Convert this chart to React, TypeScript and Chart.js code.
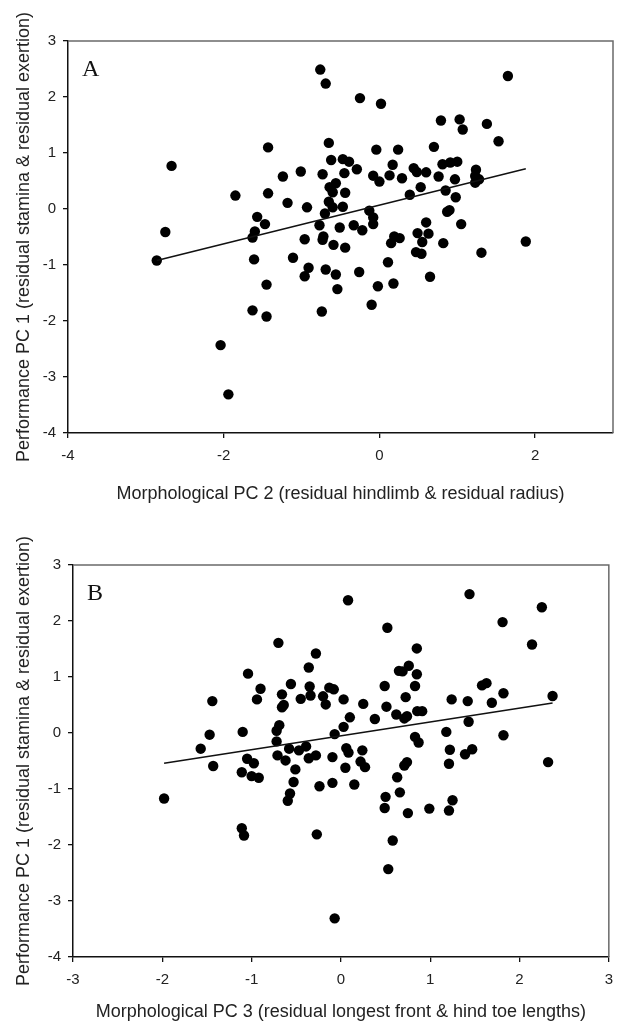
import React, { useEffect, useRef } from "react";
import { Chart, registerables } from "chart.js";

Chart.register(...registerables);

// ---------- data ----------
const yTickValues = [-4, -3, -2, -1, 0, 1, 2, 3];
const xTickValuesA = [-4, -2, 0, 2];
const xTickValuesB = [-3, -2, -1, 0, 1, 2, 3];

const yTitle = "Performance PC 1 (residual stamina & residual exertion)";
const xTitleA = "Morphological PC 2 (residual hindlimb & residual radius)";
const xTitleB = "Morphological PC 3 (residual longest front & hind toe lengths)";

const panelAX = [
  -0.76, -0.69, -0.25, 0.02, -1.43, -0.65, -0.04, -0.62, -0.47, -0.39, -0.29, -1.01, -1.24, -0.73, -0.45, -0.08, 0.0,
  -0.56, -0.64, -0.6, -0.44, -1.85, -1.43, -1.18, -0.93, -0.65, -0.6, -0.47, -0.7, -1.57, -1.47, -1.6, -1.63, -0.77,
  -0.51, -0.33, -0.22, -0.13, -0.08, -0.08, -0.96, -0.72, -0.73, -0.59, -0.44, -1.61, -1.11, -0.91, -0.96, -0.69,
  -0.56, -0.26, -1.45, -0.54, -0.02, -0.1, -1.63, -1.45, -0.74, -2.04,
  1.65, 0.79, 1.03, 1.07, 1.38, 1.53, 0.7, 0.24, 0.17, 0.13, 0.29, 0.44, 0.48, 0.6, 0.81, 0.91, 1.0, 0.76, 0.97, 1.24,
  1.23, 1.28, 1.23, 0.53, 0.39, 0.85, 0.98, 0.9, 0.87, 1.05, 0.6, 0.49, 0.63, 0.55, 0.82, 0.47, 0.54, 0.19, 0.26, 0.15,
  0.11, 0.18, 0.65, 1.31, 1.88,
  -2.67, -2.75, -2.86, -1.94,
];
const panelAY = [
  2.49, 2.24, 1.98, 1.88, 1.1, 1.18, 1.06, 0.875, 0.89, 0.845, 0.71, 0.67, 0.58, 0.62, 0.64, 0.595, 0.49,
  0.46, 0.39, 0.3, 0.29, 0.24, 0.28, 0.11, 0.03, 0.13, 0.03, 0.04, -0.08, -0.14, -0.27, -0.4, -0.51, -0.29,
  -0.33, -0.29, -0.38, -0.03, -0.15, -0.27, -0.54, -0.49, -0.55, -0.64, -0.69, -0.9, -0.87, -1.05, -1.2, -1.08,
  -1.17, -1.125, -1.35, -1.43, -1.38, -1.71, -1.81, -1.92, -1.83, -2.43,
  2.375, 1.58, 1.6, 1.42, 1.52, 1.21, 1.11, 1.06, 0.79, 0.6, 0.55, 0.73, 0.66, 0.655, 0.8, 0.83, 0.845, 0.58, 0.53, 0.7,
  0.59, 0.53, 0.47, 0.39, 0.255, 0.33, 0.21, -0.02, -0.05, -0.27, -0.24, -0.43, -0.44, -0.59, -0.61, -0.77, -0.8, -0.49,
  -0.52, -0.61, -0.95, -1.33, -1.21, -0.78, -0.58,
  0.77, -0.41, -0.92, -3.31,
];
const fitAX = [-2.86, 1.88];
const fitAY = [-0.92, 0.72];

const panelBX = [
  0.08, -0.7, -0.28, -0.36, -1.04, -0.9, -0.94, -0.56, -0.35, -0.34, -0.66, -0.66, -0.64, -0.45, -0.13, -0.08, -0.2,
  -0.17, 0.03, 0.25, 0.1, 0.03, -0.07, -1.44, -1.47, -1.1, -0.69, -0.72, -0.72, -1.57, -1.43, -1.05, -0.975, -1.11,
  -1.0, -0.92, -0.71, -0.62, -0.58, -0.47, -0.39, -0.36, -0.28, -0.51, -0.53, -0.57, -0.595, -0.24, -0.095, -0.095,
  0.06, 0.085, 0.05, 0.15, 0.22, 0.24, -1.11, -1.085, -0.27, -1.98, 0.27,
  1.44, 2.25, 1.81, 2.14, 0.52, 0.85, 0.76, 0.65, 0.69, 0.85, 0.49, 0.83, 0.725, 0.51, 0.62, 0.71, 0.74, 0.855, 0.91,
  0.38, 1.24, 1.42, 1.58, 1.63, 1.69, 1.82, 2.37, 1.43, 1.18, 1.82, 0.83, 0.87, 1.22, 1.47, 1.39, 1.21, 2.32, 0.71,
  0.74, 0.63, 0.66, 0.5, 0.49, 0.75, 0.99, 1.21, 1.25, 0.58, 0.53, -0.07,
];
const panelBY = [
  2.37, 1.61, 1.42, 1.17, 1.06, 0.79, 0.6, 0.875, 0.83, 0.67, 0.69, 0.46, 0.5, 0.61, 0.81, 0.78, 0.655,
  0.51, 0.6, 0.52, 0.28, 0.11, -0.02, 0.57, -0.03, 0.02, 0.14, 0.04, -0.15, -0.28, -0.59, -0.46, -0.54, -0.7,
  -0.77, -0.8, -0.4, -0.49, -0.28, -0.31, -0.24, -0.45, -0.4, -0.65, -0.875, -1.08, -1.21, -0.95, -0.89, -0.43,
  -0.27, -0.35, -0.62, -0.92, -0.51, -0.31, -1.7, -1.83, -1.81, -1.17, -0.61,
  2.48, 2.245, 1.98, 1.58, 1.88, 1.51, 1.2, 1.11, 1.1, 1.05, 0.84, 0.84, 0.64, 0.47, 0.33, 0.26, 0.3, 0.39, 0.39,
  0.25, 0.6, 0.57, 0.85, 0.89, 0.54, 0.71, 0.66, 0.2, 0.02, -0.04, -0.07, -0.17, -0.3, -0.29, -0.38, -0.55, -0.52, -0.58,
  -0.52, -0.79, -1.06, -1.14, -1.34, -1.43, -1.35, -1.385, -1.2, -1.92, -2.43, -3.31,
];
const fitBX = [-1.98, 2.37];
const fitBY = [-0.54, 0.535];

// ---------- chart ----------
const SANS = "'Liberation Sans', Arial, Helvetica, sans-serif";
const SERIF = "'Liberation Serif', 'Times New Roman', serif";
const W = 622;
const H = 512;

type PanelProps = {
  xs: number[];
  ys: number[];
  fitX: number[];
  fitY: number[];
  xMin: number;
  xMax: number;
  xTicks: number[];
  xTitle: string;
  letter: string;
  area: { left: number; top: number; right: number; bottom: number };
  xTitlePad: number;
};

function Panel(p: PanelProps) {
  const ref = useRef<HTMLCanvasElement | null>(null);
  useEffect(() => {
    if (!ref.current) return;
    const points = p.xs.map((x, i) => ({ x, y: p.ys[i] }));
    const fit = p.fitX.map((x, i) => ({ x, y: p.fitY[i] }));
    const framePlugin = {
      id: "frame",
      beforeDatasetsDraw(chart: any) {
        const { ctx, chartArea } = chart;
        ctx.save();
        ctx.strokeStyle = "#6a6a6a";
        ctx.lineWidth = 1.5;
        ctx.beginPath();
        ctx.moveTo(chartArea.left, chartArea.top);
        ctx.lineTo(chartArea.right, chartArea.top);
        ctx.lineTo(chartArea.right, chartArea.bottom);
        ctx.stroke();
        ctx.restore();
      },
      afterDraw(chart: any) {
        const { ctx, chartArea } = chart;
        ctx.save();
        ctx.fillStyle = "#111";
        ctx.font = `24px ${SERIF}`;
        ctx.textBaseline = "alphabetic";
        ctx.textAlign = "left";
        ctx.fillText(p.letter, chartArea.left + 14, chartArea.top + 35);
        ctx.restore();
      },
    };
    const chart = new Chart(ref.current, {
      type: "scatter",
      data: {
        datasets: [
          {
            type: "line",
            data: fit,
            borderColor: "#111",
            borderWidth: 1.6,
            pointRadius: 0,
            fill: false,
          } as any,
          {
            data: points,
            backgroundColor: "#000",
            borderWidth: 0,
            pointRadius: 5.2,
          },
        ],
      },
      options: {
        responsive: false,
        animation: false,
        events: [],
        layout: {
          padding: { left: 0, top: p.area.top, right: W - p.area.right, bottom: 0 },
        },
        plugins: { legend: { display: false }, tooltip: { enabled: false } },
        scales: {
          x: {
            type: "linear",
            min: p.xMin,
            max: p.xMax,
            afterFit: (s: any) => {
              s.height = H - p.area.bottom;
            },
            afterBuildTicks: (s: any) => {
              s.ticks = p.xTicks.map((v) => ({ value: v }));
            },
            grid: { display: true, drawOnChartArea: false, drawTicks: true, tickLength: 5, color: "#111", lineWidth: 1.3 },
            border: { display: true, color: "#111", width: 1.5 },
            ticks: { font: { family: SANS, size: 15 }, color: "#222", padding: 9, maxRotation: 0 },
            title: {
              display: true,
              text: p.xTitle,
              font: { family: SANS, size: 18 },
              color: "#222",
              padding: { top: 0, bottom: p.xTitlePad },
            },
          },
          y: {
            type: "linear",
            min: -4,
            max: 3,
            afterFit: (s: any) => {
              s.width = p.area.left;
            },
            afterBuildTicks: (s: any) => {
              s.ticks = yTickValues.map((v) => ({ value: v }));
            },
            grid: { display: true, drawOnChartArea: false, drawTicks: true, tickLength: 5, color: "#111", lineWidth: 1.3 },
            border: { display: true, color: "#111", width: 1.5 },
            ticks: { font: { family: SANS, size: 15 }, color: "#222", padding: 7 },
            title: {
              display: true,
              text: yTitle,
              font: { family: SANS, size: 18 },
              color: "#222",
              padding: { top: 13, bottom: 0 },
            },
          },
        },
      },
      plugins: [framePlugin],
    });
    return () => chart.destroy();
  }, []);
  return <canvas ref={ref} width={W} height={H} style={{ display: "block", width: W, height: H }} />;
}

export default function App() {
  return (
    <div style={{ position: "absolute", left: 0, top: 0, width: W, height: 1024, background: "#fff" }}>
      <Panel
        xs={panelAX}
        ys={panelAY}
        fitX={fitAX}
        fitY={fitAY}
        xMin={-4}
        xMax={3}
        xTicks={xTickValuesA}
        xTitle={xTitleA}
        letter="A"
        area={{ left: 68, top: 41, right: 613, bottom: 433 }}
        xTitlePad={7}
      />
      <Panel
        xs={panelBX}
        ys={panelBY}
        fitX={fitBX}
        fitY={fitBY}
        xMin={-3}
        xMax={3}
        xTicks={xTickValuesB}
        xTitle={xTitleB}
        letter="B"
        area={{ left: 73, top: 53, right: 616, bottom: 445 }}
        xTitlePad={1}
      />
    </div>
  );
}
